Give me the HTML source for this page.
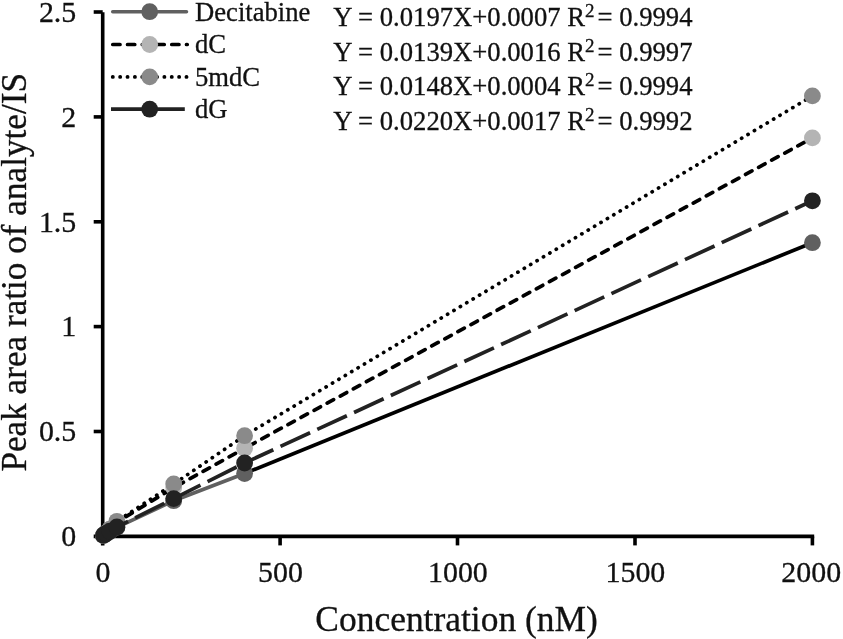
<!DOCTYPE html>
<html lang="en"><head><meta charset="utf-8"><title>Calibration curves</title>
<style>
html,body{margin:0;padding:0;background:#fff;}
body{width:843px;height:639px;overflow:hidden;font-family:"Liberation Serif","Times New Roman",serif;}
svg{display:block;}
text{font-family:"Liberation Serif","Times New Roman",serif;fill:#111;stroke:#111;stroke-width:0.3px;}
.tick{font-size:29.9px;}
.ttl{font-size:35.45px;}.ttly{font-size:35.2px;}
.leg{font-size:26.65px;}
</style></head><body>
<svg width="843" height="639" viewBox="0 0 843 639">
<rect width="843" height="639" fill="#ffffff"/>

<g stroke="#000" stroke-width="3.6" fill="none" stroke-linecap="butt">
<line x1="102.7" y1="12.2" x2="102.7" y2="545.4"/>
<line x1="93.7" y1="536.4" x2="814.2" y2="536.4"/>
<line x1="93.7" y1="431.5" x2="102.7" y2="431.5"/>
<line x1="93.7" y1="326.6" x2="102.7" y2="326.6"/>
<line x1="93.7" y1="221.8" x2="102.7" y2="221.8"/>
<line x1="93.7" y1="116.9" x2="102.7" y2="116.9"/>
<line x1="93.7" y1="12.0" x2="102.7" y2="12.0"/>
<line x1="280.1" y1="536.4" x2="280.1" y2="545.4"/>
<line x1="457.5" y1="536.4" x2="457.5" y2="545.4"/>
<line x1="635.0" y1="536.4" x2="635.0" y2="545.4"/>
<line x1="812.4" y1="536.4" x2="812.4" y2="545.4"/>
</g>
<text class="tick" x="76.3" y="546.2" text-anchor="end">0</text>
<text class="tick" x="76.3" y="441.3" text-anchor="end">0.5</text>
<text class="tick" x="76.3" y="336.4" text-anchor="end">1</text>
<text class="tick" x="76.3" y="231.6" text-anchor="end">1.5</text>
<text class="tick" x="76.3" y="126.7" text-anchor="end">2</text>
<text class="tick" x="76.3" y="21.8" text-anchor="end">2.5</text>
<text class="tick" x="103.1" y="582.3" text-anchor="middle">0</text>
<text class="tick" x="280.5" y="582.3" text-anchor="middle">500</text>
<text class="tick" x="457.9" y="582.3" text-anchor="middle">1000</text>
<text class="tick" x="635.4" y="582.3" text-anchor="middle">1500</text>
<text class="tick" x="811.2" y="582.3" text-anchor="middle">2000</text>
<text class="ttl" x="456.6" y="630.7" text-anchor="middle">Concentration (nM)</text>
<text class="ttly" transform="translate(26.0 272.3) rotate(-90)" text-anchor="middle">Peak area ratio of analyte/IS</text>
<g fill="none" stroke-width="3.70" stroke-linejoin="round">
<polyline points="103.4,535.6 104.5,534.7 106.2,533.7 109.8,531.6 116.9,527.4 173.7,500.7 244.6,473.5" stroke="#606060"/>
<polyline points="244.6,473.5 812.4,242.7" stroke="#000"/>
</g>
<circle cx="103.4" cy="535.6" r="8.4" fill="#606060"/><circle cx="104.5" cy="534.7" r="8.4" fill="#606060"/><circle cx="106.2" cy="533.7" r="8.4" fill="#606060"/><circle cx="109.8" cy="531.6" r="8.4" fill="#606060"/><circle cx="116.9" cy="527.4" r="8.4" fill="#606060"/><circle cx="173.7" cy="500.7" r="8.4" fill="#606060"/><circle cx="244.6" cy="473.5" r="8.4" fill="#606060"/><circle cx="812.4" cy="242.7" r="8.4" fill="#606060"/>
<polyline points="103.4,535.4 104.5,534.5 106.2,533.0 109.8,529.7 116.9,522.1 173.7,487.7 244.6,448.3 240.9,448.3 244.6,448.3 812.4,137.9" fill="none" stroke="#000" stroke-width="3.70" stroke-linejoin="round" stroke-linecap="round" stroke-dasharray="7.3 7.6" stroke-dashoffset="0.2"/>
<circle cx="103.4" cy="535.4" r="8.4" fill="#b4b4b4"/><circle cx="104.5" cy="534.5" r="8.4" fill="#b4b4b4"/><circle cx="106.2" cy="533.0" r="8.4" fill="#b4b4b4"/><circle cx="109.8" cy="529.7" r="8.4" fill="#b4b4b4"/><circle cx="116.9" cy="522.1" r="8.4" fill="#b4b4b4"/><circle cx="173.7" cy="487.7" r="8.4" fill="#b4b4b4"/><circle cx="244.6" cy="448.3" r="8.4" fill="#b4b4b4"/><circle cx="812.4" cy="137.9" r="8.4" fill="#b4b4b4"/>
<polyline points="103.4,535.4 104.5,534.3 106.2,532.6 109.8,529.1 116.9,521.3 173.7,484.0 244.6,435.7 812.4,95.9" fill="none" stroke="#000" stroke-width="3.70" stroke-linejoin="round" stroke-linecap="round" stroke-dasharray="0.2 7.25"/>
<circle cx="103.4" cy="535.4" r="8.4" fill="#8a8a8a"/><circle cx="104.5" cy="534.3" r="8.4" fill="#8a8a8a"/><circle cx="106.2" cy="532.6" r="8.4" fill="#8a8a8a"/><circle cx="109.8" cy="529.1" r="8.4" fill="#8a8a8a"/><circle cx="116.9" cy="521.3" r="8.4" fill="#8a8a8a"/><circle cx="173.7" cy="484.0" r="8.4" fill="#8a8a8a"/><circle cx="244.6" cy="435.7" r="8.4" fill="#8a8a8a"/><circle cx="812.4" cy="95.9" r="8.4" fill="#8a8a8a"/>
<polyline points="103.4,535.4 104.5,534.5 106.2,533.5 109.8,531.2 116.9,527.0 173.7,498.6 244.6,463.0 812.4,200.8" fill="none" stroke="#222" stroke-width="3.70" stroke-dasharray="32.6 7.9" stroke-dashoffset="4.2"/>
<circle cx="103.4" cy="535.4" r="8.4" fill="#222222"/><circle cx="104.5" cy="534.5" r="8.4" fill="#222222"/><circle cx="106.2" cy="533.5" r="8.4" fill="#222222"/><circle cx="109.8" cy="531.2" r="8.4" fill="#222222"/><circle cx="116.9" cy="527.0" r="8.4" fill="#222222"/><circle cx="173.7" cy="498.6" r="8.4" fill="#222222"/><circle cx="244.6" cy="463.0" r="8.4" fill="#222222"/><circle cx="812.4" cy="200.8" r="8.4" fill="#222222"/>
<g fill="none" stroke-width="3.70">
<line x1="112.7" y1="11.7" x2="186.5" y2="11.7" stroke="#606060" stroke-width="3.5" stroke-linecap="round"/>
<line x1="112.8" y1="44.5" x2="187.2" y2="44.5" stroke="#000" stroke-linecap="round" stroke-dasharray="7.2 7.54"/>
<line x1="112.7" y1="76.9" x2="186.6" y2="76.9" stroke="#000" stroke-linecap="round" stroke-dasharray="0.2 7.17"/>
<line x1="111" y1="109.2" x2="188.2" y2="109.2" stroke="#222" stroke-dasharray="33 7.8"/>
</g>
<circle cx="149.7" cy="11.7" r="8.4" fill="#606060"/>
<circle cx="149.7" cy="44.5" r="8.4" fill="#b4b4b4"/>
<circle cx="149.7" cy="76.9" r="8.4" fill="#8a8a8a"/>
<circle cx="149.7" cy="109.2" r="8.4" fill="#222222"/>
<text class="leg" x="195.0" y="20.6">Decitabine</text>
<text class="leg" x="195.0" y="53.1">dC</text>
<text class="leg" x="195.0" y="85.7">5mdC</text>
<text class="leg" x="195.0" y="118.2">dG</text>
<text class="leg" x="333.2" y="25.55">Y = 0.0197X+0.0007 R<tspan dy="-9" font-size="19">2</tspan><tspan dy="9" dx="3">= 0.9994</tspan></text>
<text class="leg" x="333.2" y="60.50">Y = 0.0139X+0.0016 R<tspan dy="-9" font-size="19">2</tspan><tspan dy="9" dx="3">= 0.9997</tspan></text>
<text class="leg" x="333.2" y="95.45">Y = 0.0148X+0.0004 R<tspan dy="-9" font-size="19">2</tspan><tspan dy="9" dx="3">= 0.9994</tspan></text>
<text class="leg" x="333.2" y="130.40">Y = 0.0220X+0.0017 R<tspan dy="-9" font-size="19">2</tspan><tspan dy="9" dx="3">= 0.9992</tspan></text>
</svg></body></html>
